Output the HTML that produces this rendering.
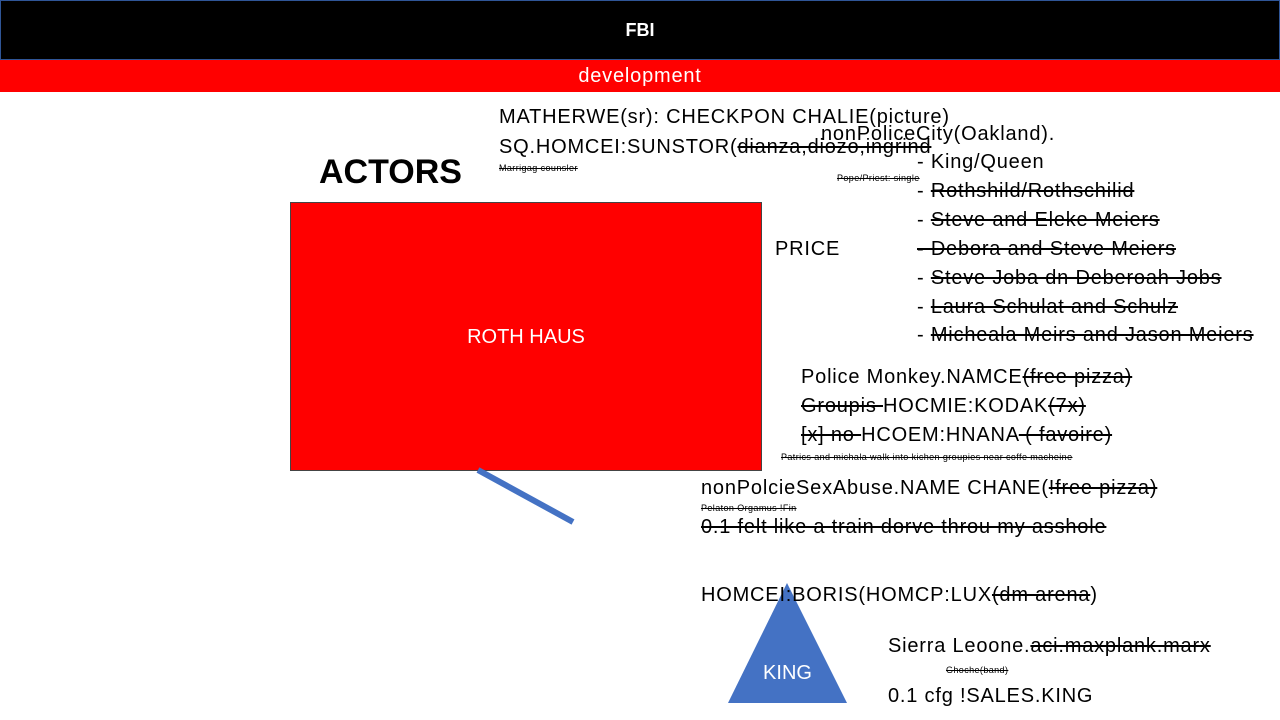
<!DOCTYPE html>
<html><head><meta charset="utf-8"><style>
body{margin:0;width:1280px;height:720px;position:relative;overflow:hidden;background:#fff;font-family:"Liberation Sans",sans-serif;}
.t{position:absolute;white-space:nowrap;font-size:20px;letter-spacing:0.8px;color:#000;line-height:1;}
.s{text-decoration:line-through;}
.sm{position:absolute;white-space:nowrap;font-size:9px;letter-spacing:0.4px;text-decoration:line-through;color:#000;}
</style></head><body>
<div style="position:absolute;left:0;top:0;width:1280px;height:60px;background:#000;border:1px solid #2f5597;box-sizing:border-box;"></div>
<div class="t" style="left:0;width:1280px;text-align:center;top:21px;color:#fff;font-weight:bold;font-size:18px;letter-spacing:0;">FBI</div>
<div style="position:absolute;left:0;top:60px;width:1280px;height:32px;background:#f00;"></div>
<div class="t" style="left:0;width:1280px;text-align:center;top:66px;color:#fff;">development</div>

<div class="t" style="left:319px;top:155px;font-size:34px;font-weight:bold;letter-spacing:0;">ACTORS</div>
<div style="position:absolute;left:290px;top:202px;width:472px;height:269px;background:#f00;border:1px solid #444;box-sizing:border-box;"></div>
<div class="t" style="left:290px;width:472px;text-align:center;top:327px;color:#fff;letter-spacing:0;">ROTH HAUS</div>
<svg style="position:absolute;left:0;top:0" width="1280" height="720">
<line x1="478" y1="470" x2="573" y2="522" stroke="#4472c4" stroke-width="6"/>
<polygon points="787,583 728,703 847,703" fill="#4472c4"/>
</svg>
<div class="t" style="left:728px;width:119px;text-align:center;top:663px;color:#fff;letter-spacing:0;">KING</div>

<div class="t" style="left:499px;top:107px;">MATHERWE(sr): CHECKPON CHALIE(picture)</div>
<div class="t" style="left:499px;top:137px;">SQ.HOMCEI:SUNSTOR(<span class="s">dianza,diozo,ingrind</span></div>
<div class="sm" style="left:499px;top:163px;">Marrigag counsler</div>
<div class="t" style="left:821px;top:124px;">nonPoliceCity(Oakland).</div>
<div class="sm" style="left:837px;top:173px;">Pope/Priest: single</div>
<div class="t" style="left:917px;top:152px;">- King/Queen</div>
<div class="t" style="left:917px;top:181px;">- <span class="s">Rothshild/Rothschilid</span></div>
<div class="t" style="left:917px;top:210px;">- <span class="s">Steve and Eleke Meiers</span></div>
<div class="t s" style="left:917px;top:239px;">- Debora and Steve Meiers</div>
<div class="t" style="left:917px;top:268px;">- <span class="s">Steve Joba dn Deberoah Jobs</span></div>
<div class="t" style="left:917px;top:297px;">- <span class="s">Laura Schulat and Schulz</span></div>
<div class="t" style="left:917px;top:325px;">- <span class="s">Micheala Meirs and Jason Meiers</span></div>
<div class="t" style="left:775px;top:239px;">PRICE</div>

<div class="t" style="left:801px;top:367px;">Police Monkey.NAMCE<span class="s">(free pizza)</span></div>
<div class="t" style="left:801px;top:396px;"><span class="s">Groupis </span>HOCMIE:KODAK<span class="s">(7x)</span></div>
<div class="t" style="left:801px;top:425px;"><span class="s">[x] no </span>HCOEM:HNANA<span class="s"> ( favoire)</span></div>
<div class="sm" style="left:781px;top:452px;">Patrics and michala walk into kichen groupies near coffe macheine</div>
<div class="t" style="left:701px;top:478px;">nonPolcieSexAbuse.NAME CHANE(<span class="s">!free pizza)</span></div>
<div class="sm" style="left:701px;top:503px;">Pelaton Orgamus !Fin</div>
<div class="t s" style="left:701px;top:517px;">0.1 felt like a train dorve throu my asshole</div>
<div class="t" style="left:701px;top:585px;">HOMCEI:BORIS(HOMCP:LUX<span class="s">(dm arena</span>)</div>
<div class="t" style="left:888px;top:636px;">Sierra Leoone.<span class="s">aci.maxplank.marx</span></div>
<div class="sm" style="left:946px;top:665px;">Ghoche(band)</div>
<div class="t" style="left:888px;top:686px;">0.1 cfg !SALES.KING</div>
</body></html>
